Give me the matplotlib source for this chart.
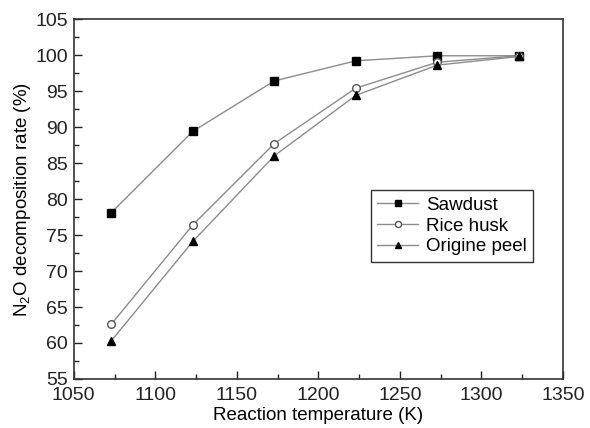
import matplotlib
matplotlib.use("Agg")

import matplotlib.pyplot as plt
from matplotlib.ticker import MultipleLocator

plt.rcParams['font.family'] = ['Liberation Sans', 'DejaVu Sans']
plt.rcParams['mathtext.default'] = 'regular'

temps = [1073, 1123, 1173, 1223, 1273, 1323]
sawdust = [78.1, 89.4, 96.4, 99.2, 99.9, 99.9]
rice_husk = [62.6, 76.4, 87.7, 95.4, 99.0, 99.9]
origine_peel = [60.3, 74.1, 86.0, 94.4, 98.6, 99.8]

fig = plt.figure(figsize=(5.9, 4.28), dpi=100)
ax = fig.add_axes([0.125, 0.1145, 0.829, 0.841])

line_kw = dict(color="#8c8c8c", linewidth=1.0, markersize=5.5)
ax.plot(temps, sawdust, marker="s", markerfacecolor="black",
        markeredgecolor="black", label="Sawdust", **line_kw)
ax.plot(temps, rice_husk, marker="o", markerfacecolor="white",
        markeredgecolor="#555555", label="Rice husk", **line_kw)
ax.plot(temps, origine_peel, marker="^", markerfacecolor="black",
        markeredgecolor="black", label="Origine peel", **line_kw)

ax.set_xlim(1050, 1350)
ax.set_ylim(55, 105)
ax.xaxis.set_major_locator(MultipleLocator(50))
ax.xaxis.set_minor_locator(MultipleLocator(25))
ax.yaxis.set_major_locator(MultipleLocator(5))
ax.yaxis.set_minor_locator(MultipleLocator(2.5))
ax.tick_params(which="both", direction="in", top=False, right=False,
               labelsize=14, width=1.0, colors="#222222")
ax.tick_params(which="major", length=6)
ax.tick_params(which="minor", length=3.5)
ax.tick_params(axis="x", which="major", pad=6)
ax.tick_params(axis="y", which="major", pad=4)
for s in ax.spines.values():
    s.set_linewidth(1.2)
    s.set_color("#333333")

ax.set_xlabel("Reaction temperature (K)", fontsize=13.5, labelpad=2)
ax.set_ylabel("N$_2$O decomposition rate (%)", fontsize=13.5, labelpad=2)

leg = ax.legend(loc="upper left", bbox_to_anchor=(0.607, 0.525),
                borderaxespad=0, fontsize=13.5, fancybox=False,
                edgecolor="black", handlelength=2.2, handletextpad=0.4,
                labelspacing=0.2, borderpad=0.35, markerscale=0.8)
leg.get_frame().set_linewidth(1.0)

fig.savefig("out.png", dpi=100)
